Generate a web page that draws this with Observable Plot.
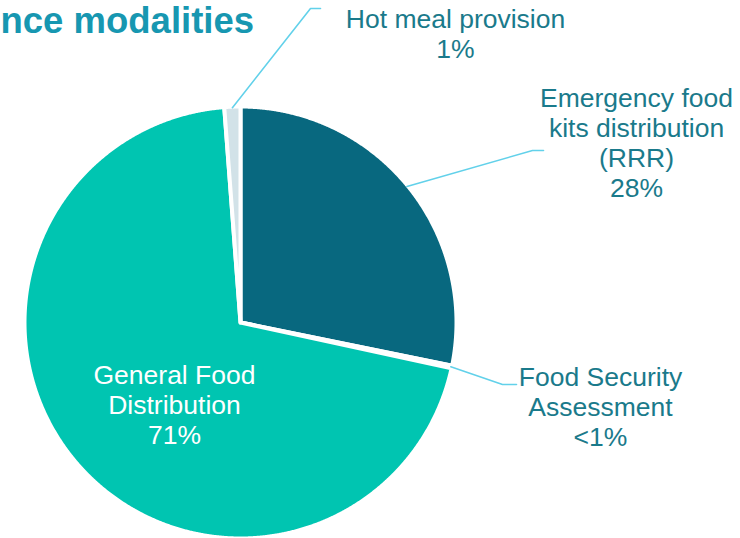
<!DOCTYPE html>
<html>
<head>
<meta charset="utf-8">
<script src="https://cdn.jsdelivr.net/npm/d3@7"></script>
<script src="https://cdn.jsdelivr.net/npm/@observablehq/plot@0.6"></script>
<style>
  html, body { margin: 0; padding: 0; background: #ffffff; }
  #chart svg { display: block; }
</style>
</head>
<body>
<div id="chart"></div>
<script>
// ---- data ----
const titleText = "nce modalities";
const categories = [
  "Emergency food kits distribution (RRR)",
  "Food Security Assessment",
  "General Food Distribution",
  "Hot meal provision"
];
const shares = [28.2, 0.2, 70.4, 1.2];
const shareLabels = ["28%", "<1%", "71%", "1%"];
const labelLines = [
  ["Emergency food", "kits distribution", "(RRR)"],
  ["Food Security", "Assessment"],
  ["General Food", "Distribution"],
  ["Hot meal provision"]
];

// ---- styling / layout (kept apart from the data) ----
const sliceColors = ["#08687f", "#7fd6e6", "#00c5b1", "#d2e2e8"];
const textColors = ["#1a7a8b", "#1a7a8b", "#ffffff", "#1a7a8b"];
const cx = 240, cy = 322, R = 216;
const toU = (px, py) => [(px - cx) / R, (cy - py) / R];
// label anchor: centre x, baseline of last line (pixels); leader bend/end (pixels) or null
const labelLayout = [
  {x: 636, y: 196, bend: [532, 150], end: [543, 150]},
  {x: 600, y: 445, bend: [502, 384], end: [516, 384]},
  {x: 174, y: 443, bend: null, end: null},
  {x: 455, y: 57, bend: [310, 8], end: [320, 8]}
];

const table = categories.map((c, i) => ({
  name: c, value: shares[i], pct: shareLabels[i],
  text: [...labelLines[i], shareLabels[i]].join("\n")
}));

const arcs = d3.pie().sort(null).value(d => d.value).startAngle(0).endAngle(2 * Math.PI)(table);

// polygon points for each slice in unit coordinates (y up)
const slicePts = arcs.map((a, i) => {
  const pts = [{x: 0, y: 0, k: i}];
  const n = Math.max(2, Math.ceil((a.endAngle - a.startAngle) / 0.004));
  for (let j = 0; j <= n; j++) {
    const t = a.startAngle + (a.endAngle - a.startAngle) * j / n;
    pts.push({x: Math.sin(t), y: Math.cos(t), k: i});
  }
  pts.push({x: 0, y: 0, k: i});
  return pts;
});

const leaders = arcs.map((a, i) => {
  const L = labelLayout[i];
  if (!L.bend) return null;
  const m = (a.startAngle + a.endAngle) / 2;
  const b = toU(...L.bend), e = toU(...L.end);
  return [{x: Math.sin(m) * 0.995, y: Math.cos(m) * 0.995}, {x: b[0], y: b[1]}, {x: e[0], y: e[1]}];
}).filter(Boolean);

const labels = table.map((d, i) => {
  const [ux, uy] = toU(labelLayout[i].x, labelLayout[i].y);
  return {...d, x: ux, y: uy, color: textColors[i]};
});

const fontFamily = '"Liberation Sans", Arial, Helvetica, sans-serif';

const chart = Plot.plot({
  width: 740,
  height: 538,
  margin: 0,
  x: {domain: [-1, 1], range: [cx - R, cx + R], axis: null},
  y: {domain: [-1, 1], range: [cy + R, cy - R], axis: null},
  style: {background: "#ffffff", fontFamily},
  marks: [
    ...slicePts.map((pts, i) => Plot.line(pts, {
      x: "x", y: "y", fill: sliceColors[i], stroke: "#ffffff",
      strokeWidth: 4, strokeLinejoin: "round", curve: "linear"
    })),
    ...leaders.map(pts => Plot.line(pts, {
      x: "x", y: "y", stroke: "#62d1ea", strokeWidth: 1.6, curve: "linear"
    })),
    Plot.text(labels, {
      x: "x", y: "y", text: "text", fill: "color",
      fontSize: 26.5, lineHeight: 1.13, lineAnchor: "bottom", textAnchor: "middle"
    }),
    Plot.text([titleText], {
      frameAnchor: "top-left", text: d => d, dx: 0, dy: 32,
      lineAnchor: "bottom", textAnchor: "start",
      fontSize: 36.5, fontWeight: "bold", fill: "#1797b1"
    })
  ]
});

document.getElementById("chart").appendChild(chart);
</script>
</body>
</html>
